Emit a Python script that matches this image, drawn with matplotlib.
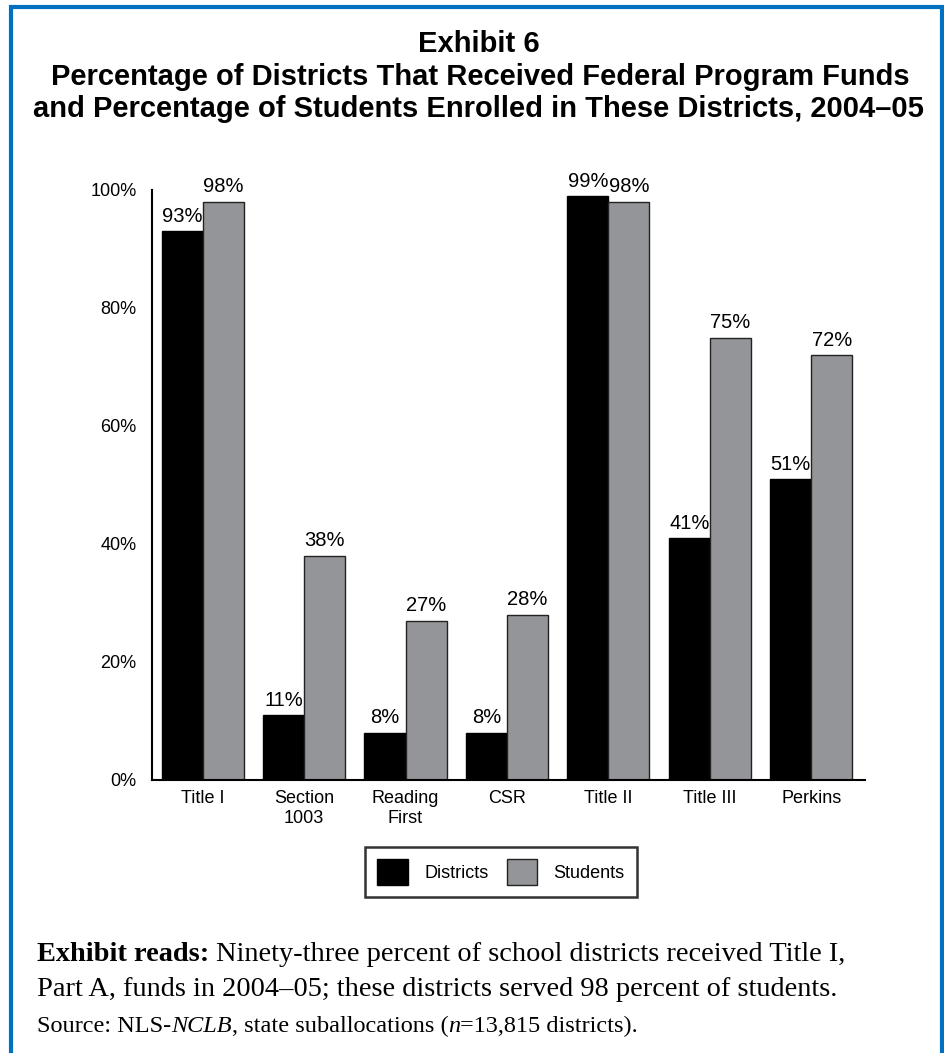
import matplotlib
matplotlib.use("Agg")
import matplotlib.pyplot as plt
from matplotlib.patches import Rectangle
import numpy as np

categories = ["Title I", "Section\n1003", "Reading\nFirst", "CSR", "Title II", "Title III", "Perkins"]
districts = [93, 11, 8, 8, 99, 41, 51]
students = [98, 38, 27, 28, 98, 75, 72]
yticks = [0, 20, 40, 60, 80, 100]
ytick_labels = ["0%", "20%", "40%", "60%", "80%", "100%"]

W, H = 945, 1053
plt.rcParams['font.family'] = ['Liberation Sans', 'DejaVu Sans']
fig = plt.figure(figsize=(W / 100, H / 100), dpi=100)

# blue frame
fig.patches.append(Rectangle((11 / W, -0.01), 931 / W, 1.01 - 7 / H, transform=fig.transFigure,
                             fill=False, edgecolor='#0070c0', linewidth=3.0))

tsize = 21
fig.text(479 / W, 1 - 44 / H, "Exhibit 6", ha='center', va='center', fontsize=tsize, fontweight='bold')
fig.text(480 / W, 1 - 77 / H, "Percentage of Districts That Received Federal Program Funds",
         ha='center', va='center', fontsize=tsize, fontweight='bold')
fig.text(478 / W, 1 - 109 / H, "and Percentage of Students Enrolled in These Districts, 2004\u201305",
         ha='center', va='center', fontsize=tsize, fontweight='bold')

ax = fig.add_axes([152 / W, 1 - 780 / H, (865 - 152) / W, (780 - 190) / H])
x = np.arange(len(categories))
bw = 0.405
gray = '#939598'
ax.bar(x - bw / 2, districts, bw, color='black', edgecolor='black', linewidth=1, label='Districts')
ax.bar(x + bw / 2, students, bw, color=gray, edgecolor='#222222', linewidth=1, label='Students')
for xi, d, s in zip(x, districts, students):
    ax.text(xi - bw / 2, d + 0.9, f"{d}%", ha='center', va='bottom', fontsize=14.5)
    ax.text(xi + bw / 2, s + 0.9, f"{s}%", ha='center', va='bottom', fontsize=14.5)

ax.set_xlim(-0.5, 6.53)
ax.set_ylim(0, 100)
ax.set_yticks(yticks)
ax.set_yticklabels(ytick_labels, fontsize=13)
ax.set_xticks(x)
ax.set_xticklabels(categories, fontsize=13, linespacing=1.25)
ax.tick_params(axis='both', length=0)
ax.tick_params(axis='y', pad=11)
ax.tick_params(axis='x', pad=7)
ax.spines['top'].set_visible(False)
ax.spines['right'].set_visible(False)
ax.spines['left'].set_linewidth(1.5)
ax.spines['bottom'].set_linewidth(1.5)

leg = fig.legend(loc='center', bbox_to_anchor=(501 / W, 1 - 872 / H), ncol=2, fontsize=13,
                 frameon=True, fancybox=False, edgecolor='black', handlelength=1.7, handleheight=1.8,
                 columnspacing=1.0, handletextpad=0.9, borderpad=0.7)
leg.get_frame().set_linewidth(1.8)

serif = ['Liberation Serif', 'DejaVu Serif']
fig.canvas.draw()
renderer = fig.canvas.get_renderer()


def rich(x_px, y_px, segments, size, gap_frac=0.25):
    cur = x_px
    for txt, kw in segments:
        t = fig.text(cur / W, 1 - y_px / H, txt, fontsize=size, va='baseline', family=serif, **kw)
        bb = t.get_window_extent(renderer)
        cur = bb.x1 + size * gap_frac * 100 / 72


rich(37, 961, [("Exhibit reads:", dict(fontweight='bold')),
               ("Ninety-three percent of school districts received Title I,", {})], 20.4)
rich(37, 996, [("Part A, funds in 2004\u201305; these districts served 98 percent of students.", {})], 20.4)
rich(37, 1032, [("Source: NLS-", {}), ("NCLB", dict(style='italic')),
                (", state suballocations (", {}), ("n", dict(style='italic')),
                ("=13,815 districts).", {})], 17.5, gap_frac=0.0)

fig.savefig("out.png", dpi=100)
